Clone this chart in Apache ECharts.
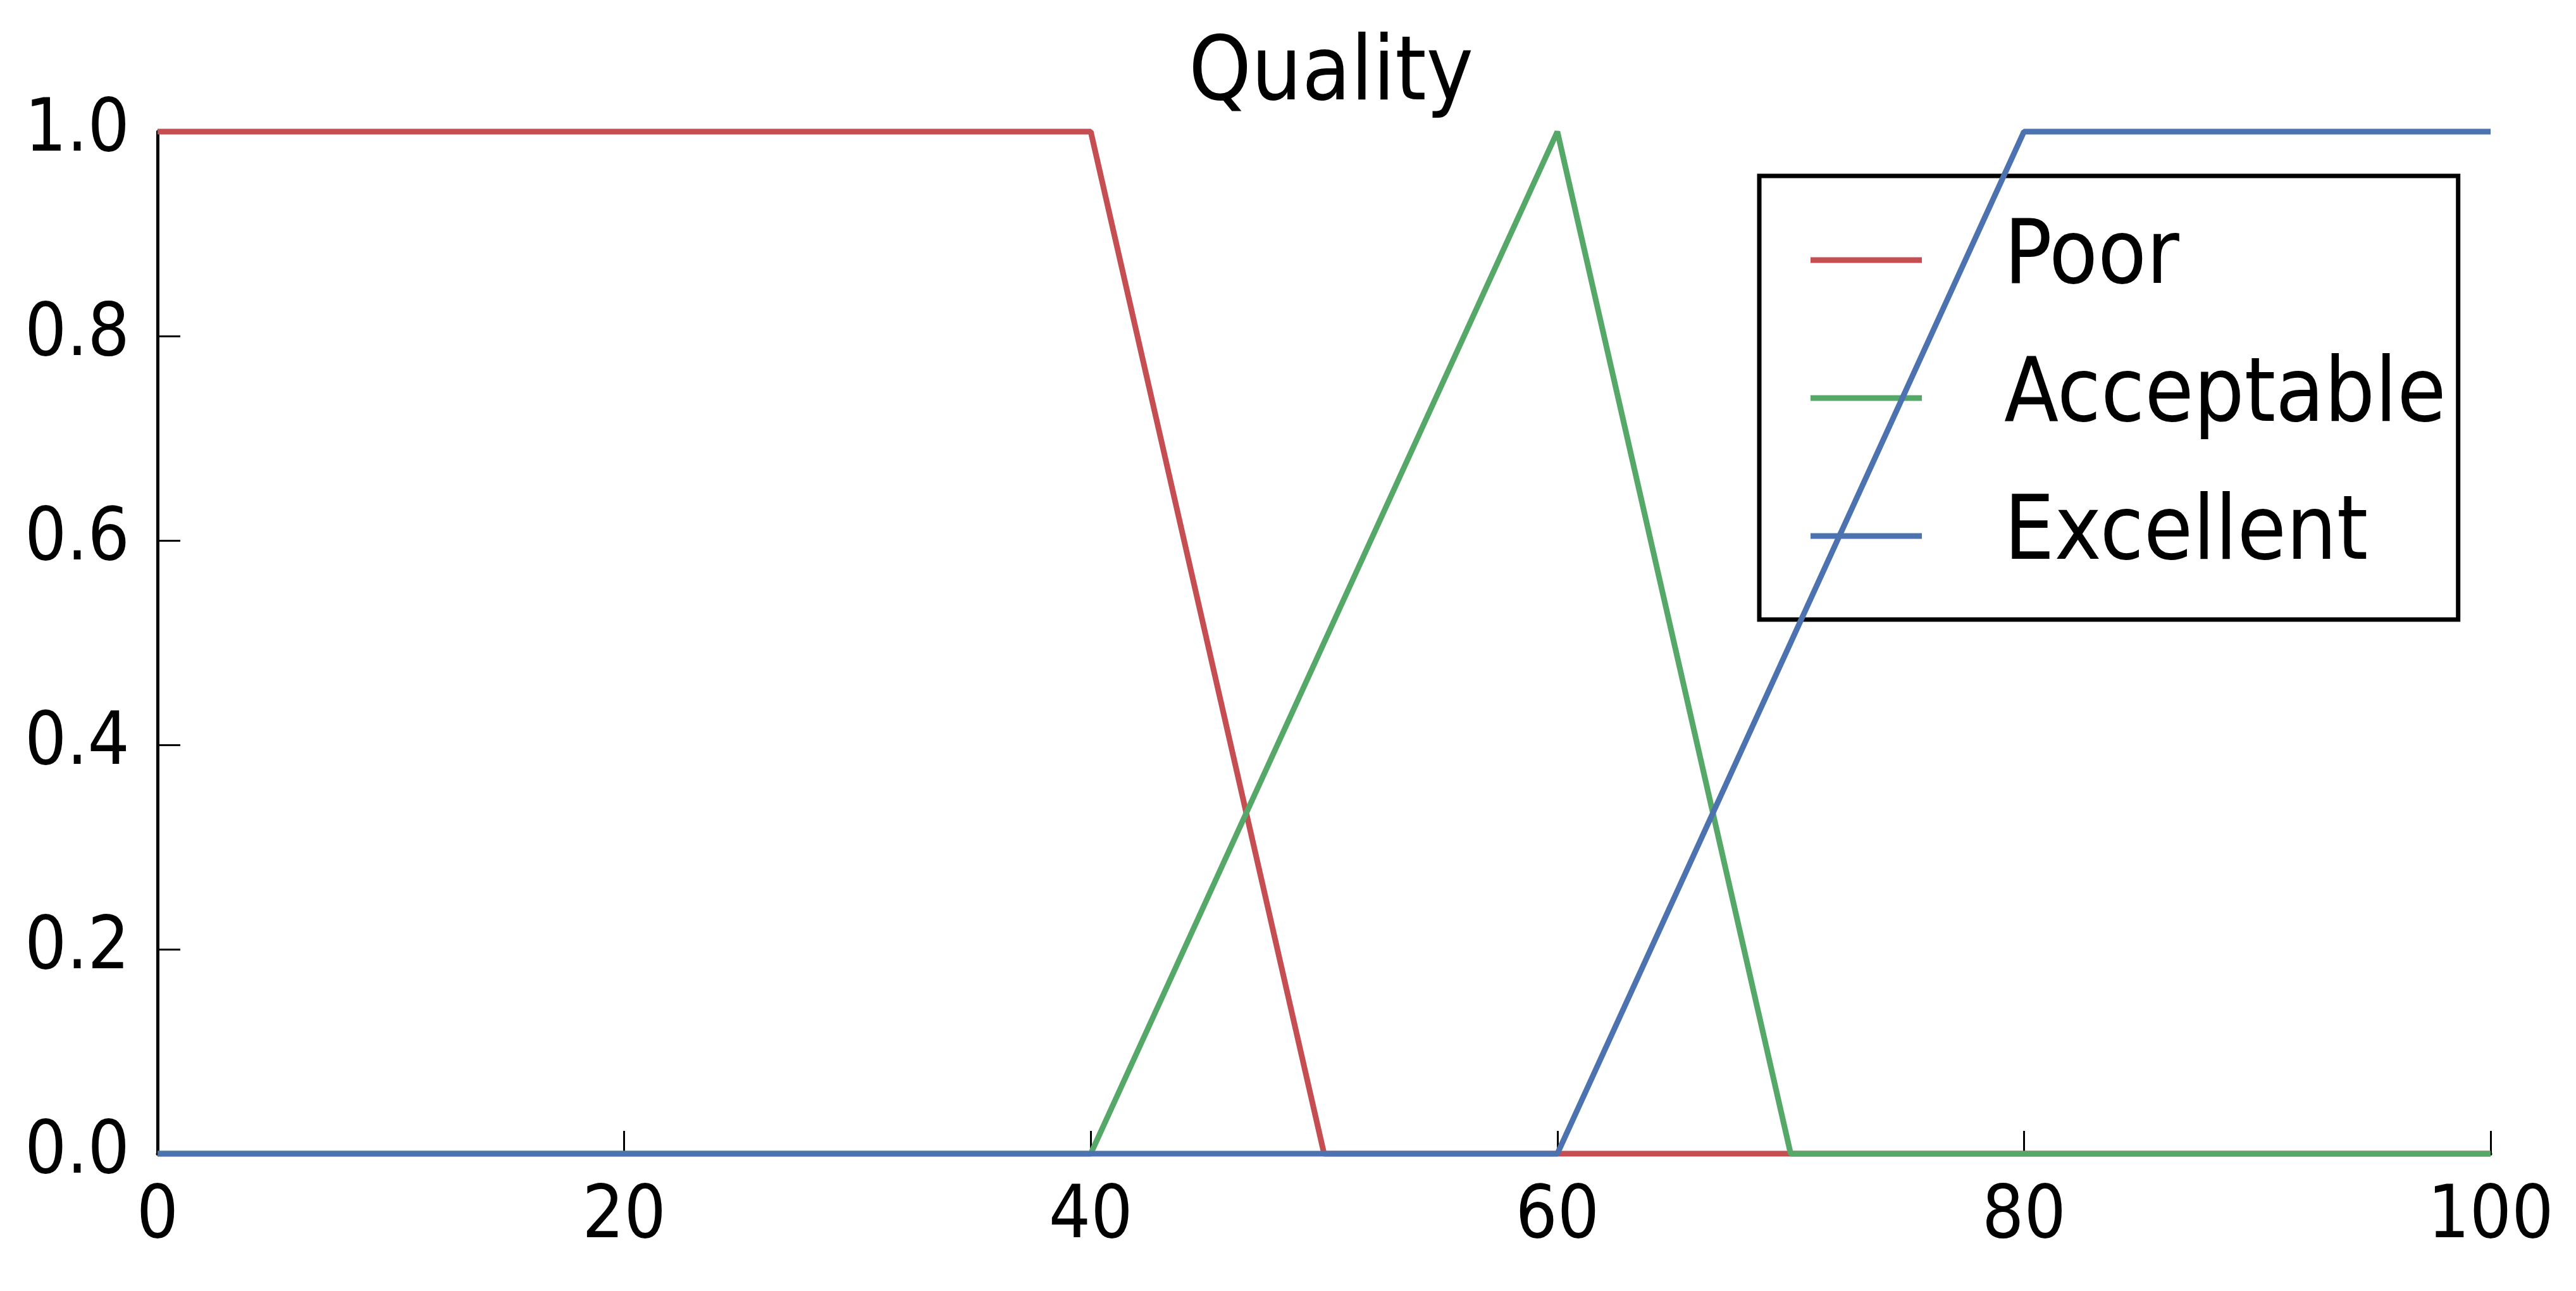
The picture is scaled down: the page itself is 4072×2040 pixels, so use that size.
<!DOCTYPE html>
<html>
<head>
<meta charset="utf-8">
<script src="https://cdn.jsdelivr.net/npm/echarts@6/dist/echarts.min.js"></script>
<style>
html,body{margin:0;padding:0;background:#fff;}
#chart{width:4072px;height:2040px;}
</style>
</head>
<body>
<div id="chart"></div>
<script>
// ---- data ----
const titleText = 'Quality';
const xValues = [0, 40, 50, 60, 70, 80, 100];
const poor = [1, 1, 0, 0, 0, 0, 0];
const acceptable = [0, 0, 0.5, 1, 0, 0, 0];
const excellent = [0, 0, 0, 0, 0.5, 1, 1];
const seriesNames = ['Poor', 'Acceptable', 'Excellent'];
const seriesColors = ['#C44E52', '#55A868', '#4C72B0'];
const xTicks = [0, 20, 40, 60, 80, 100];
const yTicks = [0.0, 0.2, 0.4, 0.6, 0.8, 1.0];

const FONT = '"DejaVu Sans Condensed", "DejaVu Sans", sans-serif';

function pairs(ys) { return xValues.map((x, i) => [x, ys[i]]); }
const seriesData = [poor, acceptable, excellent];

const chart = echarts.init(document.getElementById('chart'));
chart.setOption({
  animation: false,
  backgroundColor: '#fff',
  title: {
    text: titleText,
    left: 1874,
    top: 46,
    textStyle: { fontFamily: FONT, fontSize: 140, fontWeight: 'normal', color: '#000' }
  },
  grid: { left: 249, right: 135, top: 208, bottom: 217 },
  xAxis: {
    type: 'value', min: 0, max: 100, interval: 20,
    axisLine: { show: true, onZero: false, lineStyle: { color: '#000', width: 5 } },
    axisTick: { show: true, inside: true, length: 36, lineStyle: { color: '#000', width: 3 } },
    axisLabel: { margin: 44, fontFamily: FONT, fontSize: 116, color: '#000',
      formatter: v => xTicks.includes(v) ? String(v) : '' },
    splitLine: { show: false }
  },
  yAxis: {
    type: 'value', min: 0, max: 1, interval: 0.2,
    axisLine: { show: true, onZero: false, lineStyle: { color: '#000', width: 5 } },
    axisTick: { show: true, inside: true, length: 36, lineStyle: { color: '#000', width: 3 } },
    axisLabel: { margin: 44, fontFamily: FONT, fontSize: 116, color: '#000',
      formatter: v => yTicks.some(t => Math.abs(t - v) < 1e-9) ? v.toFixed(1) : '' },
    splitLine: { show: false }
  },
  legend: {
    orient: 'vertical',
    left: 2781, top: 278,
    padding: [58, 19, 57, 81],
    itemGap: 68,
    itemWidth: 176, itemHeight: 9,
    icon: 'rect',
    backgroundColor: '#fff',
    borderColor: '#000', borderWidth: 7, borderRadius: 0,
    textStyle: { fontFamily: FONT, fontSize: 140, color: '#000', lineHeight: 150, padding: [0, 0, 0, 125] },
    data: seriesNames
  },
  series: seriesNames.map((name, i) => ({
    name, type: 'line', data: pairs(seriesData[i]),
    symbol: 'none', clip: false, z: 2 + i,
    color: seriesColors[i],
    lineStyle: { color: seriesColors[i], width: 9 }
  }))
});
</script>
</body>
</html>
